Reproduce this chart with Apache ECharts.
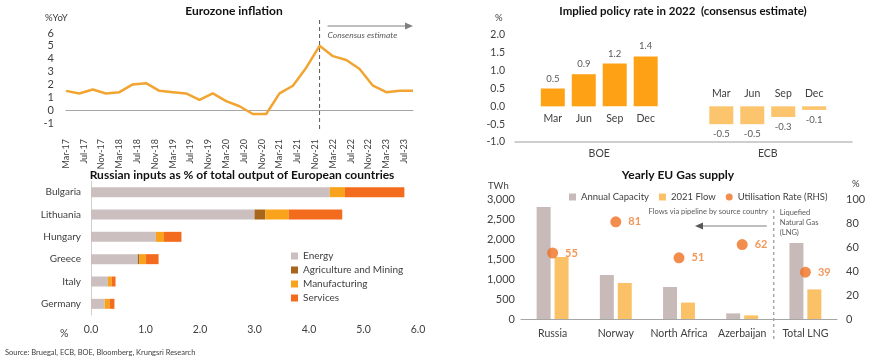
<!DOCTYPE html>
<html><head><meta charset="utf-8">
<script src="https://cdn.jsdelivr.net/npm/echarts@6/dist/echarts.min.js"></script>
<style>html,body{margin:0;padding:0;background:#fff}#c{width:870px;height:363px}</style>
</head><body><div id="c"></div>
<script>
// ---- Eurozone inflation (quarterly, %YoY)
var inflQuarters = ['Mar-17','Jun-17','Sep-17','Dec-17','Mar-18','Jun-18','Sep-18','Dec-18','Mar-19','Jun-19','Sep-19','Dec-19','Mar-20','Jun-20','Sep-20','Dec-20','Mar-21','Jun-21','Sep-21','Dec-21','Mar-22','Jun-22','Sep-22','Dec-22','Mar-23','Jun-23','Sep-23'];
var inflValues = [1.5,1.3,1.6,1.3,1.4,2.0,2.1,1.5,1.4,1.3,0.8,1.3,0.7,0.3,-0.3,-0.3,1.3,1.9,3.3,5.0,4.2,3.9,3.2,1.9,1.4,1.5,1.5];
var inflAxisStart = {m:2, y:17}; // Mar-17
var inflAxisEnd = {m:8, y:23};   // Sep-23
var estimateStart = 'Dec-21';

// ---- Implied policy rate 2022
var policyBanks = ['BOE','ECB'];
var policyMonths = ['Mar','Jun','Sep','Dec'];
var boeRates = [0.5,0.9,1.2,1.4];
var ecbRates = [-0.5,-0.5,-0.3,-0.1];

// ---- Russian inputs as % of output
var countries = ['Bulgaria','Lithuania','Hungary','Greece','Italy','Germany'];
var sectorNames = ['Energy','Agriculture and Mining','Manufacturing','Services'];
var energy = [4.38,3.0,1.19,0.86,0.31,0.25];
var agriMining = [0,0.2,0,0.03,0,0];
var manufacturing = [0.28,0.43,0.15,0.12,0.07,0.09];
var services = [1.09,0.98,0.32,0.23,0.07,0.09];

// ---- Yearly EU gas supply
var gasSources = ['Russia','Norway','North Africa','Azerbaijan','Total LNG'];
var annualCapacity = [2800,1100,800,140,1900];
var flow2021 = [1550,900,410,90,740];
var utilisation = [55,81,51,62,39];

var MON = ['Jan','Feb','Mar','Apr','May','Jun','Jul','Aug','Sep','Oct','Nov','Dec'];
var monthCats = [];
(function(){var m=inflAxisStart.m,y=inflAxisStart.y;while(true){monthCats.push(MON[m]+'-'+y);if(m===inflAxisEnd.m&&y===inflAxisEnd.y)break;m++;if(m>11){m=0;y++;}}})();

var FONT = 'Lato';
var TXT = '#404040';
var sectorColors = ['#CBBFBF','#A8651C','#F9A21C','#F36C1E'];

var chart = echarts.init(document.getElementById('c'), null, {renderer:'canvas'});

function policyData(i, forLabel){
  return policyBanks.map(function(b, k){
    var v = k===0 ? boeRates[i] : ecbRates[i];
    var pos = forLabel ? (v>=0?'bottom':'top') : (v>=0?'top':'bottom');
    return {value: v, itemStyle:{color: forLabel ? 'rgba(0,0,0,0)' : (k===0?'#FFA114':'#FCC46C')}, label:{position: pos}};
  });
}

var series = [];
series.push({type:'line', xAxisIndex:0, yAxisIndex:0, data: inflQuarters.map(function(q,i){return [q, inflValues[i]];}),
  symbol:'none', lineStyle:{color:'#F2A431', width:2.5}, itemStyle:{color:'#F2A431'}});
policyMonths.forEach(function(m,i){
  series.push({type:'bar', name:m, xAxisIndex:1, yAxisIndex:1, barWidth:24, barGap:'29%', data: policyData(i,false),
    label:{show:true, fontFamily:FONT, fontSize:9.5, color:'#595959', distance:5, formatter:function(p){return p.value.toFixed(1);}}});
});
policyMonths.forEach(function(m,i){
  series.push({type:'bar', name:m+'_lbl', xAxisIndex:2, yAxisIndex:1, barWidth:24, barGap:'29%', data: policyData(i,true), silent:true,
    label:{show:true, fontFamily:FONT, fontSize:10.5, color:TXT, distance:7, formatter:m}});
});
[energy, agriMining, manufacturing, services].forEach(function(d,i){
  series.push({type:'bar', name:sectorNames[i], stack:'ru', xAxisIndex:3, yAxisIndex:2, barWidth:10, data:d, itemStyle:{color:sectorColors[i]}});
});
series.push({type:'bar', name:'Annual Capacity', xAxisIndex:4, yAxisIndex:3, barWidth:14, barGap:'28%', data:annualCapacity, itemStyle:{color:'#C9BABA'}});
series.push({type:'bar', name:'2021 Flow', xAxisIndex:4, yAxisIndex:3, barWidth:14, barGap:'28%', data:flow2021, itemStyle:{color:'#FBC167'}});
series.push({type:'scatter', name:'Utilisation Rate (RHS)', xAxisIndex:4, yAxisIndex:4, symbolSize:11, data:utilisation, itemStyle:{color:'#F07022'},
  label:{show:true, position:'right', distance:7, fontFamily:FONT, fontSize:11, fontWeight:'bold', color:'#ED7D31'}});

var axisLbl = {fontFamily:FONT, color:TXT};
var titleStyle = {fontFamily:FONT, fontSize:12, fontWeight:'bold', color:'#111'};
var option = {
  animation:false,
  textStyle:{fontFamily:FONT},
  title:[
    {text:'Eurozone inflation', left:229, top:0, textAlign:'center', textStyle:titleStyle},
    {text:'Implied policy rate in 2022  (consensus estimate)', left:678, top:0, textAlign:'center', textStyle:Object.assign({}, titleStyle, {fontSize:11.5})},
    {text:'Russian inputs as % of total output of European countries', left:237, top:164, textAlign:'center', textStyle:titleStyle},
    {text:'Yearly EU Gas supply', left:673, top:164, textAlign:'center', textStyle:titleStyle}
  ],
  legend:[
    {data:sectorNames, orient:'vertical', left:286, top:246, itemWidth:7, itemHeight:7, itemGap:4, icon:'rect',
      textStyle:{fontFamily:FONT, fontSize:10, color:TXT}},
    {data:[{name:'Annual Capacity',icon:'rect'},{name:'2021 Flow',icon:'rect'},{name:'Utilisation Rate (RHS)',icon:'circle'}], left:564, top:187, itemWidth:7, itemHeight:7, itemGap:10,
      textStyle:{fontFamily:FONT, fontSize:9.5, color:TXT}}
  ],
  grid:[
    {left:66, right:457, top:33, bottom:240},
    {left:515, right:18, top:35, bottom:221},
    {left:91, right:452, top:181, bottom:48},
    {left:521, right:33, top:199, bottom:44}
  ],
  xAxis:[
    {gridIndex:0, type:'category', data:monthCats, boundaryGap:false,
      axisLine:{lineStyle:{color:'#A6A6A6'}}, axisTick:{show:false},
      axisLabel:Object.assign({rotate:90, interval:3, fontSize:9, margin:16}, axisLbl)},
    {gridIndex:1, type:'category', data:policyBanks, axisLine:{show:false}, axisTick:{show:false},
      axisLabel:Object.assign({fontSize:10.5, margin:6}, axisLbl)},
    {gridIndex:1, type:'category', data:policyBanks, position:'bottom', axisLine:{show:true, onZero:true, lineStyle:{color:'#BFBFBF', width:1.5}}, axisTick:{show:false}, axisLabel:{show:false}},
    {gridIndex:2, type:'value', min:0, max:6, interval:1, splitLine:{show:false}, axisLine:{show:false}, axisTick:{show:false},
      axisLabel:Object.assign({fontSize:10.5, margin:9, formatter:function(v){return v.toFixed(1);}}, axisLbl)},
    {gridIndex:3, type:'category', data:gasSources, axisLine:{lineStyle:{color:'#A6A6A6'}}, axisTick:{show:false},
      axisLabel:Object.assign({fontSize:10.5, margin:9, interval:0}, axisLbl)}
  ],
  yAxis:[
    {gridIndex:0, type:'value', min:-1, max:6, interval:1, splitLine:{show:false}, axisLine:{show:false}, axisTick:{show:false},
      axisLabel:Object.assign({fontSize:11, margin:12}, axisLbl)},
    {gridIndex:1, type:'value', min:-1, max:2, interval:0.5, splitLine:{show:false}, axisLine:{show:false}, axisTick:{show:false},
      axisLabel:Object.assign({fontSize:10.5, margin:10, formatter:function(v){return v.toFixed(1);}}, axisLbl)},
    {gridIndex:2, type:'category', data:countries, inverse:true, axisLine:{show:true, lineStyle:{color:'#D0D0D0'}}, axisTick:{show:false},
      axisLabel:Object.assign({fontSize:10, margin:10}, axisLbl)},
    {gridIndex:3, type:'value', min:0, max:3000, interval:500, splitLine:{show:false}, axisLine:{show:false}, axisTick:{show:false},
      axisLabel:Object.assign({fontSize:11, margin:6, formatter:function(v){return v.toLocaleString('en-US');}}, axisLbl)},
    {gridIndex:3, type:'value', position:'right', min:0, max:100, interval:20, splitLine:{show:false}, axisLine:{show:false}, axisTick:{show:false},
      axisLabel:Object.assign({fontSize:11, margin:9}, axisLbl)}
  ],
  series:series
};
chart.setOption(option);

// annotations positioned from the axes
var dx = chart.convertToPixel({xAxisIndex:0}, estimateStart);
var sep = (chart.convertToPixel({xAxisIndex:4}, gasSources[3]) + chart.convertToPixel({xAxisIndex:4}, gasSources[4]))/2;
var small = {fontFamily:FONT, fontSize:7.5, fill:'#595959'};
chart.setOption({graphic:[
  {type:'line', shape:{x1:dx, y1:20, x2:dx, y2:131}, style:{stroke:'#595959', lineWidth:1, lineDash:[4,3]}},
  {type:'line', shape:{x1:dx+8, y1:26, x2:407, y2:26}, style:{stroke:'#7F7F7F', lineWidth:1}},
  {type:'polygon', shape:{points:[[413,26],[405,22.5],[405,29.5]]}, style:{fill:'#7F7F7F'}},
  {type:'text', x:dx+8, y:31, style:{text:'Consensus estimate', fontFamily:FONT, fontSize:8.5, fontStyle:'italic', fill:'#595959'}},
  {type:'text', x:45, y:13, style:{text:'%YoY', fontFamily:FONT, fontSize:9.5, fill:TXT}},
  {type:'text', x:495, y:13, style:{text:'%', fontFamily:FONT, fontSize:9.5, fill:TXT}},
  {type:'text', x:60, y:328, style:{text:'%', fontFamily:FONT, fontSize:10.5, fill:TXT}},
  {type:'text', x:488, y:181, style:{text:'TWh', fontFamily:FONT, fontSize:9.5, fill:TXT}},
  {type:'text', x:852, y:179, style:{text:'%', fontFamily:FONT, fontSize:9.5, fill:TXT}},
  {type:'line', shape:{x1:sep, y1:210, x2:sep, y2:341}, style:{stroke:'#7F7F7F', lineWidth:1, lineDash:[3,3]}},
  {type:'text', x:sep-6, y:208, style:Object.assign({text:'Flows via pipeline by source country', textAlign:'right'}, small)},
  {type:'line', shape:{x1:sep-7, y1:226, x2:702, y2:226}, style:{stroke:'#7F7F7F', lineWidth:1}},
  {type:'polygon', shape:{points:[[695,226],[703,222.5],[703,229.5]]}, style:{fill:'#595959'}},
  {type:'text', x:sep+6, y:208, style:Object.assign({text:'Liquefied\nNatural Gas\n(LNG)', lineHeight:10}, small)},
  {type:'text', x:5, y:349, style:{text:'Source: Bruegal, ECB, BOE, Bloomberg, Krungsri Research', fontFamily:FONT, fontSize:7.5, fill:'#404040'}}
]});
</script></body></html>
